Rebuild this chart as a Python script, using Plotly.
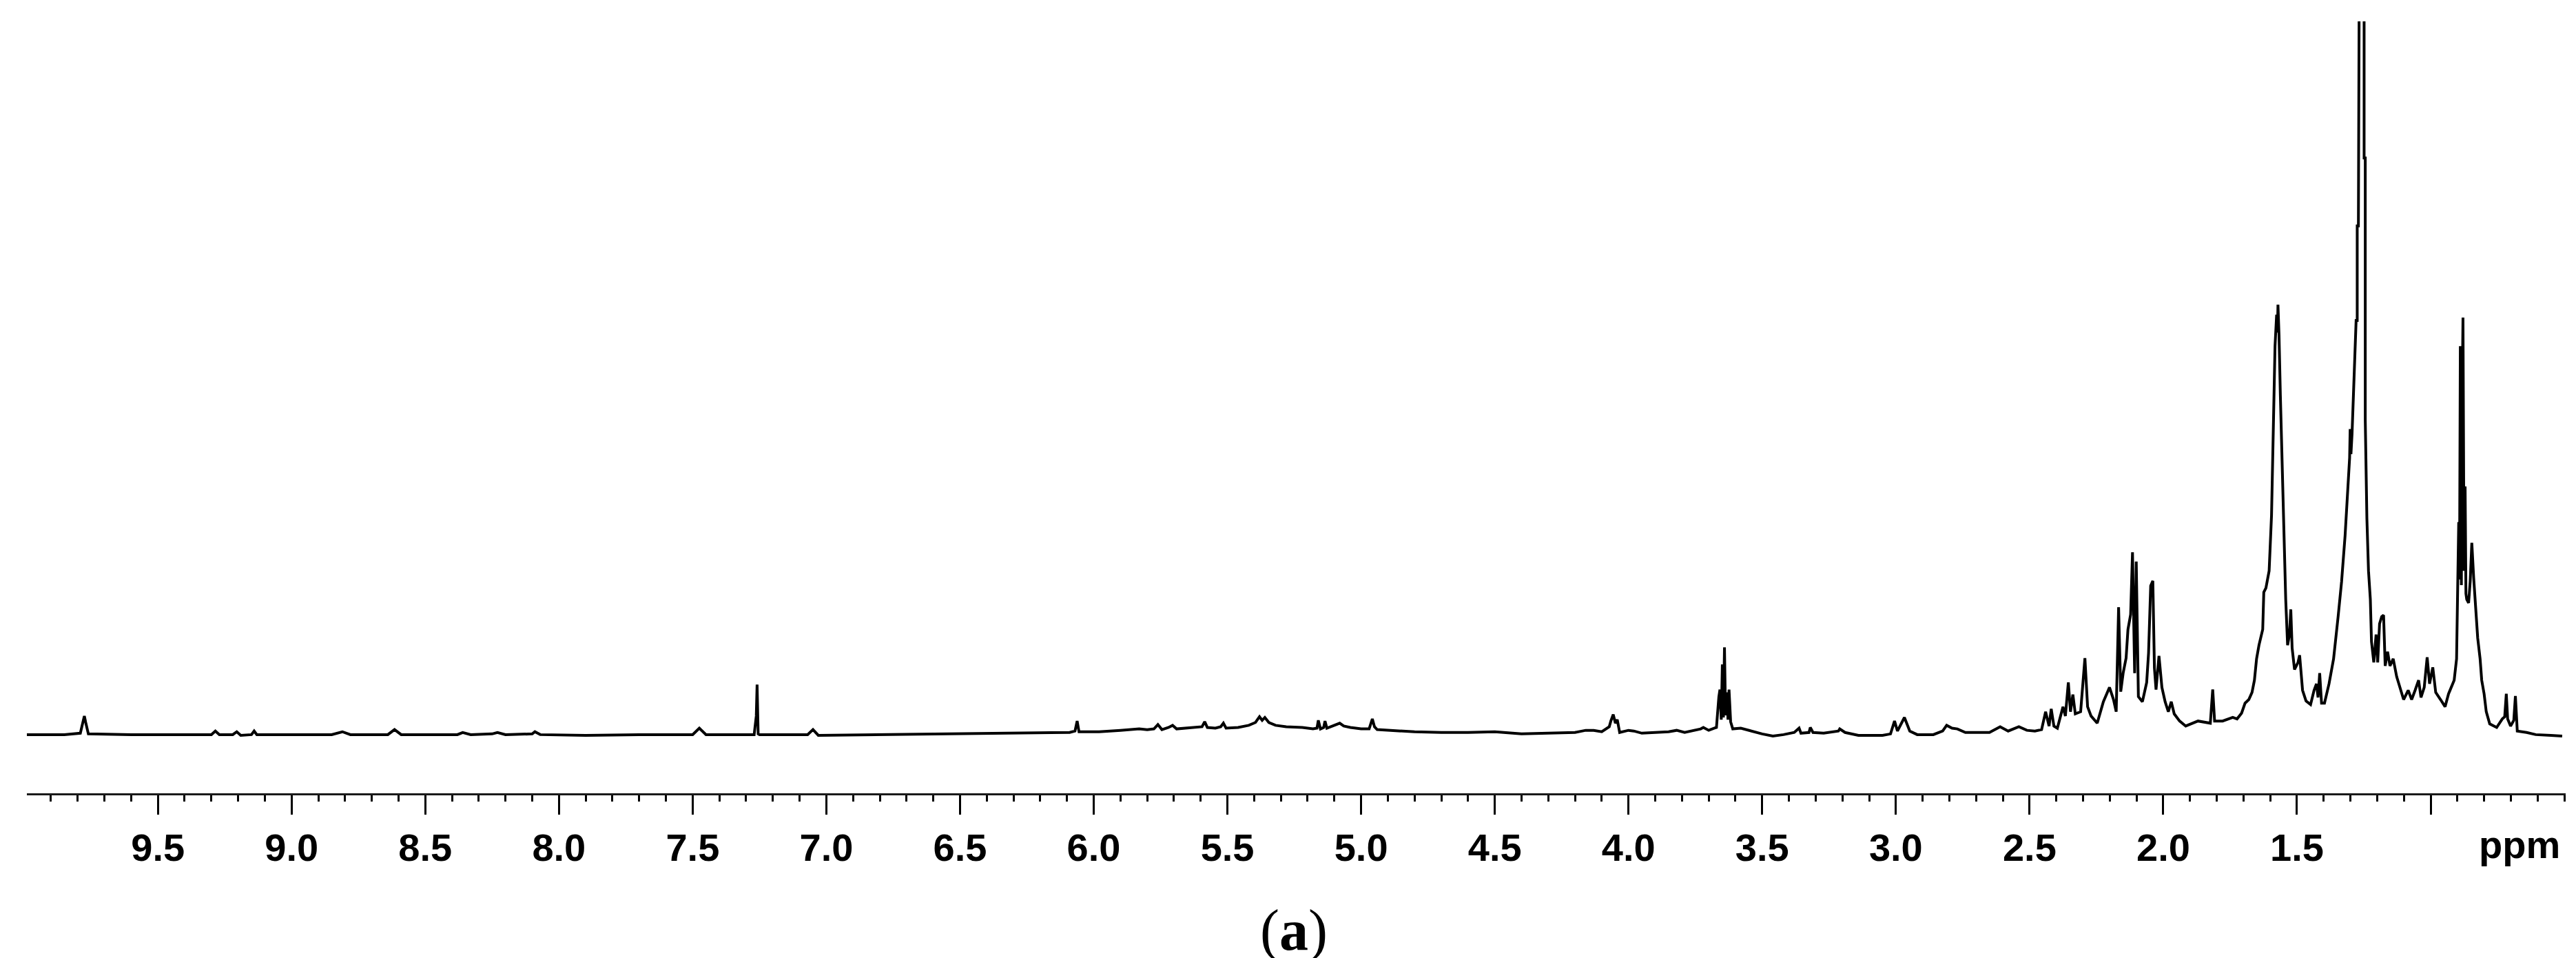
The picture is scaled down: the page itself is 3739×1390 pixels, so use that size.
import plotly.graph_objects as go

# ---- spectrum: (chemical shift ppm, relative intensity) ----
downfield = [
    (9.99, 0.3), (9.85, 0.3), (9.79, 0.5), (9.78, 2.0), (9.775, 2.9), (9.77, 2.0), (9.76, 0.4),
    (9.6, 0.3), (9.45, 0.3), (9.30, 0.3), (9.285, 0.8), (9.27, 0.3), (9.22, 0.3), (9.205, 0.7),
    (9.19, 0.2), (9.15, 0.3), (9.14, 0.8), (9.13, 0.3), (9.0, 0.3), (8.85, 0.3), (8.81, 0.7),
    (8.78, 0.3), (8.64, 0.3), (8.615, 1.0), (8.59, 0.3), (8.38, 0.3), (8.36, 0.6), (8.33, 0.3),
    (8.25, 0.4), (8.23, 0.6), (8.20, 0.3), (8.10, 0.4), (8.09, 0.7), (8.07, 0.3), (7.9, 0.2),
    (7.7, 0.3), (7.5, 0.3), (7.475, 1.2), (7.45, 0.3), (7.27, 0.3), (7.262, 2.9), (7.259, 7.3),
    (7.255, 0.4), (7.25, 0.3), (7.07, 0.3), (7.05, 1.0), (7.03, 0.2), (6.8, 0.3), (6.6, 0.4),
]

olefinic = [
    (6.4, 0.4), (6.2, 0.5), (6.09, 0.6), (6.07, 0.8), (6.062, 2.2), (6.055, 0.7), (5.98, 0.7),
    (5.9, 0.9), (5.83, 1.1), (5.8, 1.0), (5.775, 1.1), (5.76, 1.7), (5.745, 1.0), (5.72, 1.3),
    (5.705, 1.6), (5.69, 1.1), (5.66, 1.2), (5.62, 1.3), (5.595, 1.4), (5.585, 2.1), (5.575, 1.3),
    (5.545, 1.2), (5.525, 1.4), (5.515, 1.9), (5.505, 1.2), (5.46, 1.3), (5.42, 1.6), (5.395, 2.0),
    (5.38, 2.8), (5.37, 2.3), (5.36, 2.7), (5.345, 2.0), (5.32, 1.6), (5.28, 1.4), (5.22, 1.3),
    (5.18, 1.1), (5.165, 1.2), (5.16, 2.3), (5.152, 1.1), (5.14, 1.3), (5.135, 2.2), (5.128, 1.2),
    (5.11, 1.5), (5.095, 1.7), (5.08, 1.9), (5.065, 1.5), (5.04, 1.3), (5.0, 1.1), (4.97, 1.1),
    (4.958, 2.5), (4.95, 1.4), (4.94, 1.0), (4.9, 0.9), (4.8, 0.7), (4.7, 0.6), (4.6, 0.6),
    (4.5, 0.7), (4.42, 0.5),
]

midfield = [
    (4.40, 0.4), (4.30, 0.5), (4.20, 0.6), (4.16, 0.9), (4.13, 0.9), (4.10, 0.7),
    (4.072, 1.4), (4.066, 2.2), (4.057, 3.1), (4.049, 1.9), (4.042, 2.4), (4.033, 0.6),
    (4.00, 0.9), (3.98, 0.8), (3.95, 0.5), (3.85, 0.7), (3.82, 0.9), (3.79, 0.6), (3.76, 0.9),
    (3.73, 1.1), (3.72, 1.3), (3.70, 0.9), (3.68, 1.2),
    (3.671, 1.3), (3.662, 5.6), (3.658, 6.6), (3.653, 2.4), (3.649, 10.1), (3.645, 2.7),
    (3.641, 12.5), (3.637, 3.0), (3.632, 6.2), (3.628, 2.4), (3.624, 6.6), (3.618, 2.1),
    (3.610, 1.1), (3.58, 1.2), (3.55, 0.9), (3.50, 0.4), (3.46, 0.1), (3.42, 0.3), (3.38, 0.6),
    (3.362, 1.2), (3.355, 0.5), (3.325, 0.6), (3.32, 1.3), (3.31, 0.6), (3.27, 0.5),
    (3.215, 0.8), (3.21, 1.1), (3.19, 0.6), (3.14, 0.2), (3.05, 0.2), (3.02, 0.4),
    (3.005, 2.2), (2.994, 0.8), (2.968, 2.7), (2.948, 0.8), (2.92, 0.3), (2.86, 0.3),
    (2.825, 0.8), (2.81, 1.6), (2.79, 1.2), (2.77, 1.1), (2.74, 0.6), (2.70, 0.6), (2.65, 0.6),
    (2.61, 1.4), (2.58, 0.8), (2.54, 1.4), (2.51, 0.9), (2.48, 0.8),
]

allylic = [
    (2.455, 1.0), (2.44, 3.5), (2.427, 1.5), (2.419, 3.9), (2.409, 1.5), (2.396, 1.2),
    (2.375, 4.2), (2.366, 2.9), (2.355, 7.6), (2.347, 3.5), (2.338, 5.9), (2.329, 3.2),
    (2.309, 3.5), (2.293, 11.0), (2.283, 4.2), (2.270, 2.9), (2.247, 1.9), (2.224, 4.9),
    (2.201, 6.9), (2.186, 5.2), (2.176, 3.5), (2.167, 18.1), (2.159, 6.3), (2.150, 8.9),
    (2.139, 11.0), (2.132, 15.0), (2.122, 17.1), (2.115, 25.8), (2.107, 8.9), (2.101, 24.5),
    (2.093, 5.6), (2.078, 4.9), (2.062, 7.6), (2.055, 11.7), (2.047, 21.1), (2.039, 21.8),
    (2.033, 9.6), (2.027, 6.6), (2.016, 11.3), (2.005, 6.9), (1.993, 4.9), (1.981, 3.5),
    (1.970, 4.9), (1.959, 3.2), (1.939, 2.2), (1.916, 1.5), (1.870, 2.2), (1.824, 1.9),
    (1.815, 6.6), (1.808, 2.2), (1.778, 2.2), (1.74, 2.7),
]

aliphatic = [
    (1.724, 2.5), (1.707, 3.3), (1.694, 4.7), (1.680, 5.2), (1.668, 6.2), (1.659, 7.9),
    (1.651, 10.9), (1.642, 12.8), (1.634, 14.3), (1.628, 15.0), (1.624, 20.2), (1.616, 20.8),
    (1.610, 22.0), (1.604, 23.2), (1.595, 31.0), (1.588, 43.8), (1.582, 54.6), (1.576, 59.0),
    (1.573, 56.5), (1.571, 60.4), (1.567, 56.1), (1.562, 47.7), (1.556, 38.9), (1.549, 29.1),
    (1.542, 19.2), (1.535, 12.8), (1.528, 14.3), (1.523, 17.8), (1.518, 12.4), (1.509, 9.4),
    (1.496, 10.4), (1.490, 11.4), (1.479, 6.5), (1.466, 5.0), (1.449, 4.5), (1.436, 6.5),
    (1.427, 7.4), (1.421, 5.5), (1.415, 8.9), (1.408, 4.7), (1.397, 4.7), (1.380, 7.4),
    (1.363, 10.9), (1.346, 16.8), (1.333, 21.7), (1.320, 28.1), (1.307, 36.0), (1.303, 39.0),
    (1.301, 43.0), (1.298, 39.5), (1.294, 42.3), (1.286, 52.2), (1.2787, 58.2), (1.2746, 58.2),
    (1.2746, 71.4), (1.2702, 71.4), (1.2702, 150.0), (1.2595, 190.0), (1.2488, 150.0),
    (1.2488, 80.9), (1.2445, 80.9), (1.2445, 44.3), (1.2384, 30.5), (1.2324, 23.2),
    (1.2255, 19.2), (1.2212, 13.3), (1.2126, 10.4), (1.204, 14.3), (1.198, 10.4), (1.191, 15.8),
    (1.183, 16.8), (1.176, 17.0), (1.170, 9.9), (1.161, 11.9), (1.152, 9.9), (1.140, 10.9),
    (1.127, 8.4), (1.114, 6.9), (1.101, 5.2), (1.084, 6.5), (1.071, 5.2), (1.058, 6.5),
    (1.045, 7.9), (1.036, 5.5), (1.024, 6.9), (1.013, 11.1), (1.004, 7.4), (0.992, 9.7),
    (0.981, 6.2), (0.963, 5.2), (0.946, 4.2), (0.933, 6.0), (0.912, 7.9), (0.903, 10.9),
    (0.899, 20.2), (0.895, 30.0), (0.892, 22.0), (0.889, 54.6), (0.885, 21.2), (0.883, 45.0),
    (0.879, 58.6), (0.875, 23.2), (0.871, 35.0), (0.868, 20.0), (0.865, 19.2), (0.858, 18.7),
    (0.852, 21.7), (0.846, 27.1), (0.839, 22.2), (0.830, 16.8), (0.824, 13.8), (0.815, 10.9),
    (0.809, 7.9), (0.800, 6.0), (0.792, 3.5), (0.779, 1.8), (0.753, 1.3), (0.732, 2.5),
    (0.723, 2.8), (0.717, 6.0), (0.712, 2.5), (0.701, 1.5), (0.689, 2.3), (0.683, 5.7),
    (0.676, 0.8), (0.641, 0.6), (0.607, 0.3), (0.55, 0.2), (0.508, 0.1),
]

tick_values = [9.5, 9.0, 8.5, 8.0, 7.5, 7.0, 6.5, 6.0, 5.5, 5.0, 4.5, 4.0, 3.5, 3.0, 2.5, 2.0, 1.5, 1.0]
tick_labels = ["9.5", "9.0", "8.5", "8.0", "7.5", "7.0", "6.5", "6.0", "5.5", "5.0",
               "4.5", "4.0", "3.5", "3.0", "2.5", "2.0", "1.5", ""]
axis_unit = "ppm"
panel_label = "(<b>a</b>)"

points = downfield + olefinic + midfield + allylic + aliphatic
ppm = [p for p, _ in points]
intensity = [v for _, v in points]

fig = go.Figure()
fig.add_trace(go.Scatter(x=ppm, y=intensity, mode="lines",
                         line=dict(color="black", width=4), showlegend=False,
                         hoverinfo="skip"))

fig.update_layout(
    width=3739, height=1390,
    margin=dict(l=31, r=23, t=23, b=247, pad=0),
    paper_bgcolor="white", plot_bgcolor="white",
    xaxis=dict(
        range=[9.99, 0.495], autorange=False,
        showline=True, linecolor="#1a1a1a", linewidth=3,
        showgrid=False, zeroline=False,
        ticks="outside", ticklen=28, tickwidth=2.5, tickcolor="black",
        tickmode="array", tickvals=tick_values, ticktext=tick_labels,
        tickfont=dict(family="Liberation Sans, Arial, sans-serif", size=56,
                      color="black", weight="bold"),
        minor=dict(tickmode="linear", tick0=0, dtick=0.1, ticks="outside",
                   ticklen=9, tickwidth=2.5, tickcolor="black", showgrid=False),
    ),
    yaxis=dict(range=[-7.9, 100], visible=False, showgrid=False, zeroline=False),
    annotations=[
        dict(text=axis_unit, x=1, xref="paper", xanchor="right", xshift=-6,
             y=-0.037, yref="paper", yanchor="top", showarrow=False,
             font=dict(family="Liberation Sans, Arial, sans-serif", size=56,
                       color="black", weight="bold")),
        dict(text=panel_label, x=0.499, xref="paper", xanchor="center",
             y=-0.178, yref="paper", yanchor="middle", showarrow=False,
             font=dict(family="Liberation Serif, Times New Roman, serif", size=84,
                       color="black")),
    ],
)

fig.write_html("out.html")
